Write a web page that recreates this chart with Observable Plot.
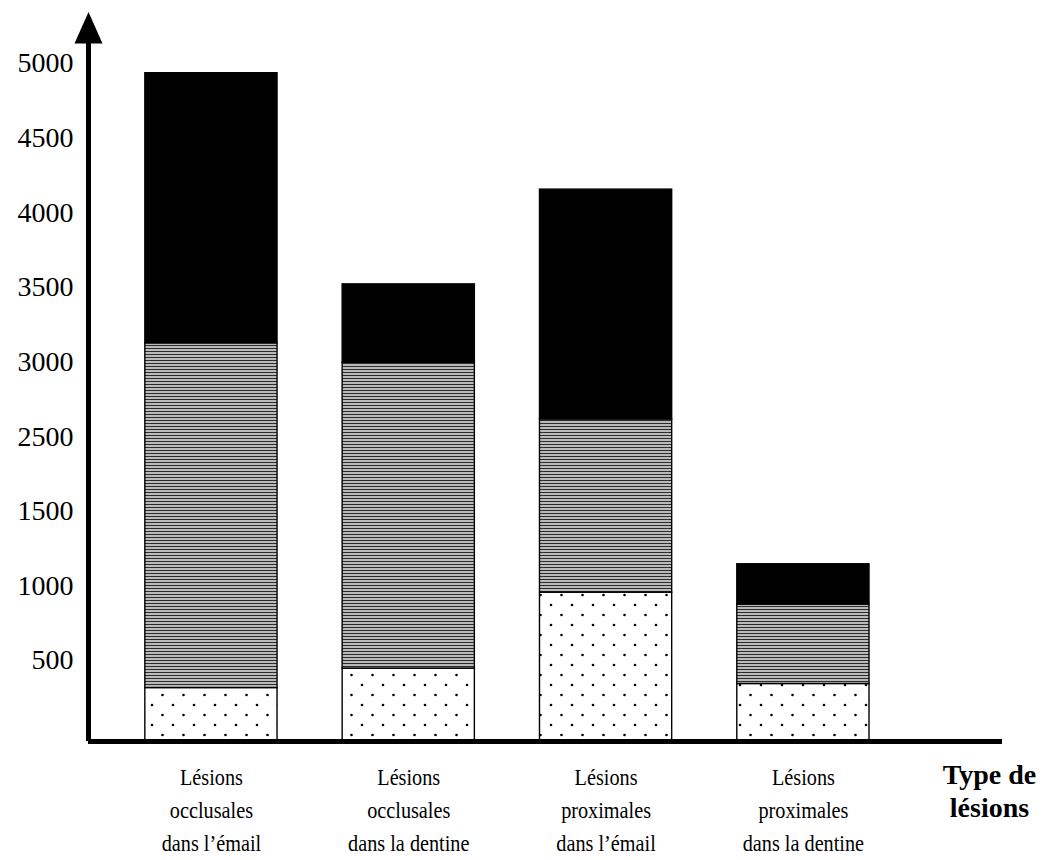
<!DOCTYPE html>
<html>
<head>
<meta charset="utf-8">
<script src="https://cdn.jsdelivr.net/npm/d3@7"></script>
<script src="https://cdn.jsdelivr.net/npm/@observablehq/plot@0.6"></script>
<style>
  html, body { margin: 0; padding: 0; background: #fff; }
  svg { display: block; }
</style>
</head>
<body>
<div id="chart"></div>
<script>
// ---- data ----
const categories = [
  "Lésions\nocclusales\ndans l’émail",
  "Lésions\nocclusales\ndans la dentine",
  "Lésions\nproximales\ndans l’émail",
  "Lésions\nproximales\ndans la dentine"
];
const segmentNames = ["pointillé", "hachuré", "noir"];
const dottedValues  = [330, 450, 955, 355];
const hatchedValues = [2795, 2545, 1660, 520];
const blackValues   = [1810, 525, 1540, 270];
const yTickValues = [500, 1000, 1500, 2500, 3000, 3500, 4000, 4500, 5000];
const xAxisTitle = "Type de\nlésions";

// ---- table built for Plot ----
const seriesArrays = [dottedValues, hatchedValues, blackValues];
const table = categories.flatMap((c, i) => {
  let base = 0;
  return segmentNames.map((s, k) => {
    const y1 = base;
    base += seriesArrays[k][i];
    return {i, s, y1, y2: base};
  });
});

const halfBar = 0.335;
const xDomain = [-0.623, 4.009];
const axisTop = 5205;

const svg = Plot.plot({
  width: 1050,
  height: 860,
  marginLeft: 88,
  marginRight: 48,
  marginTop: 10,
  marginBottom: 119,
  style: {fontFamily: "Liberation Serif", color: "black", background: "white"},
  x: {type: "linear", domain: xDomain, axis: null},
  // the original axis is evenly spaced but skips the 2000 label
  y: {type: "linear", domain: [0, 500, 1500, 2500, 5000], range: [741, 660, 510.8, 436.1, 63], axis: null},
  color: {type: "ordinal", domain: segmentNames, range: ["url(#dots)", "url(#hatch)", "#000"]},
  marks: [
    Plot.rect(table, {
      x1: d => d.i - halfBar, x2: d => d.i + halfBar,
      y1: "y1", y2: "y2", fill: "s",
      stroke: "black", strokeWidth: 1.4
    }),
    Plot.ruleY([0], {stroke: "black", strokeWidth: 5}),
    Plot.ruleX([xDomain[0]], {y1: 0, y2: axisTop, stroke: "black", strokeWidth: 5}),
    Plot.dot([axisTop], {x: xDomain[0], y: d => d, symbol: "triangle", r: 10.4, fill: "black", stroke: "none", className: "arrowhead"}),
    Plot.axisY(yTickValues, {
      label: null, tickSize: 0, tickPadding: 15, fontSize: 28,
      fontFamily: "Liberation Serif", tickFormat: d => String(d)
    }),
    Plot.text(categories, {
      x: (d, i) => i, y: () => 0, dy: 20, lineAnchor: "top",
      lineHeight: 1.43, fontSize: 23, fontFamily: "Liberation Serif",
      className: "xlab"
    }),
    Plot.text([xAxisTitle], {
      x: () => xDomain[1], y: () => 0, dx: -13, dy: 19, lineAnchor: "top",
      lineHeight: 1.18, fontSize: 28, fontWeight: "bold", fontFamily: "Liberation Serif"
    })
  ]
});

// pattern fills
const defs = d3.select(svg).insert("defs", ":first-child");
defs.html(`
  <pattern id="dots" patternUnits="userSpaceOnUse" width="21" height="20">
    <rect width="21" height="20" fill="white"/>
    <circle cx="5" cy="5" r="1.3" fill="black"/>
    <circle cx="15.5" cy="15" r="1.3" fill="black"/>
  </pattern>
  <pattern id="hatch" patternUnits="userSpaceOnUse" width="8" height="3">
    <rect width="8" height="3" fill="#bababa"/>
    <rect width="8" height="1" fill="#2e2e2e"/>
  </pattern>`);

// taller arrowhead
d3.select(svg).selectAll(".arrowhead path").attr("transform", function () {
  return this.getAttribute("transform") + " scale(1,1.3)";
});
// the original lettering is narrow and tall
d3.select(svg).selectAll(".xlab text").attr("transform", function () {
  return this.getAttribute("transform") + " scale(0.88,1)";
});

document.getElementById("chart").appendChild(svg);
</script>
</body>
</html>
